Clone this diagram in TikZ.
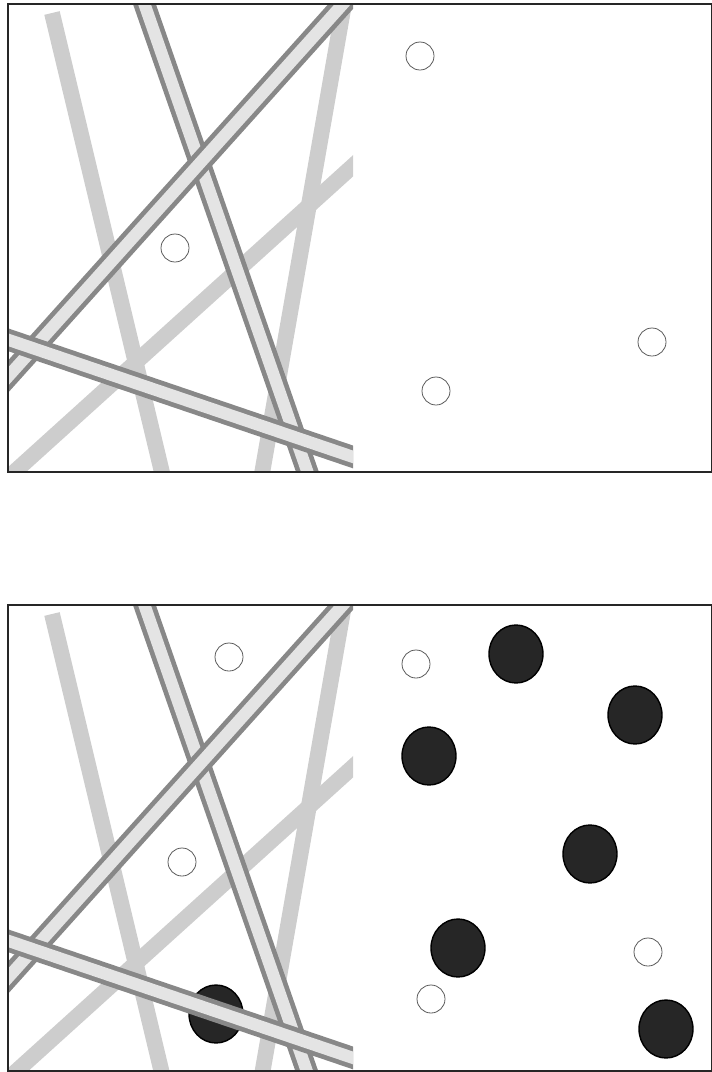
\documentclass[tikz,border=0pt]{standalone}
\usepackage{tikz}
\usetikzlibrary{shapes.geometric}
\definecolor{stripgray}{HTML}{CDCDCD}
\definecolor{roadedge}{HTML}{888888}
\definecolor{roadfill}{HTML}{E4E4E4}
\definecolor{stonefill}{HTML}{262626}

\begin{document}
\begin{tikzpicture}[
    x=0.02cm, y=-0.02cm,
    strip/.style={draw=stripgray, line width=9pt},
    road/.style={draw=roadedge, line width=2.7pt, double=roadfill, double distance=6.9pt},
    frame/.style={draw=black!85, line width=1.1pt},
    hole/.style={circle, draw=black!65, line width=0.45pt, minimum size=0.56cm, inner sep=0pt},
    stone/.style={ellipse, draw=black, fill=stonefill, line width=0.8pt, minimum width=1.08cm, minimum height=1.16cm, inner sep=0pt},
]
    \useasboundingbox (0,0) rectangle (711,1072);

    % stone lying under the road (lower panel)
    \node[stone] (stone-7) at (216,1014) {};

    % crossing strips, same in both panels
    \foreach \dy in {0,601} {
      \begin{scope}[shift={(0,\dy)}]
        \clip (8,5) rectangle (353,471);
        \draw[strip] (52,13) -- (165,485);
        \draw[strip] (343,10) -- (260,485);
        \draw[strip] (365,155) -- (0,485);
        \draw[road] (143,0) -- (312,485);
        \draw[road] (351,-5) -- (-13,400);
        \draw[road] (0,337) -- (365,461);
      \end{scope}
    }

    % frames
    \draw[frame] (8,4) rectangle (712,472);
    \draw[frame] (8,605) rectangle (712,1071);

    % upper panel
    \foreach \x/\y [count=\i] in {175/248, 420/56, 652/342, 436/391}
      \node[hole] (top-\i) at (\x,\y) {};

    % lower panel
    \foreach \x/\y [count=\i] in {229/657, 182/862, 416/664, 648/952, 431/999}
      \node[hole] (low-\i) at (\x,\y) {};
    \foreach \x/\y [count=\i] in {516/654, 635/715, 429/756, 590/854, 458/948, 666/1029}
      \node[stone] (stone-\i) at (\x,\y) {};
\end{tikzpicture}
\end{document}
